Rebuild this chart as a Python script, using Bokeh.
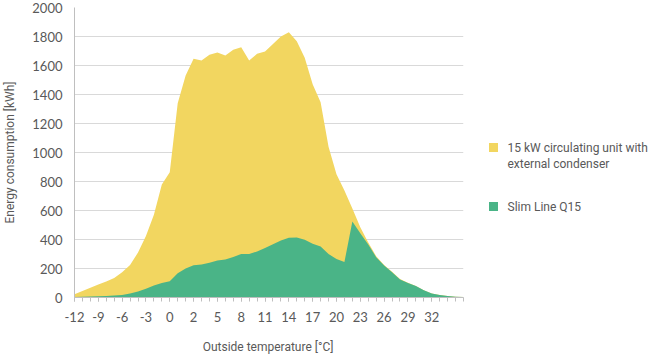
from bokeh.plotting import figure
from bokeh.layouts import row, column
from bokeh.models import Range1d, FixedTicker, ColumnDataSource, Div
from bokeh.embed import file_html
from bokeh.resources import INLINE

# Outside temperature categories (°C)
temps = [str(t) for t in range(-12, 0)] + ["0", "0"] + [str(t) for t in range(1, 37)]

# Energy consumption [kWh]
circulating_unit = [22, 45, 68, 90, 110, 135, 175, 225, 310, 425,
                    570, 780, 864, 1340, 1531, 1646, 1634, 1674, 1690, 1669,
                    1708, 1726, 1634, 1681, 1697, 1748, 1800, 1830, 1768, 1653,
                    1470, 1347, 1040, 850, 738, 614, 485, 380, 285, 225,
                    178, 127, 102, 80, 50, 28, 18, 10, 6, 4]
slim_line = [3, 5, 7, 9, 11, 14, 18, 28, 41, 60,
             82, 100, 112, 168, 200, 222, 228, 240, 255, 262,
             280, 300, 300, 318, 342, 368, 393, 412, 413, 398,
             370, 352, 300, 265, 244, 525, 443, 365, 278, 221,
             175, 125, 100, 80, 50, 28, 18, 10, 6, 4]

series_names = ["15 kW circulating unit with\nexternal condenser", "Slim Line Q15"]
x_title = "Outside temperature [°C]"
y_title = "Energy consumption [kWh]"

YELLOW = "#F2D660"
GREEN = "#4AB487"
TEXT = "#595959"
GRID = "#D9D9D9"
AXIS = "#BFBFBF"

MAIN_W = 470
H = 340          # chart height; the x-axis title sits in a 14px strip below
TITLE_H = 354 - H
TOP, BOTTOM = 7, 297

idx = list(range(len(temps)))
src = ColumnDataSource(dict(x=idx, a=circulating_unit, b=slim_line, zero=[0] * len(idx)))

p = figure(width=MAIN_W, height=H, output_backend="svg", toolbar_location=None,
           x_range=Range1d(0, len(temps) - 1), y_range=Range1d(0, 2000),
           min_border_left=73, min_border_right=MAIN_W - 463, min_border_top=TOP,
           min_border_bottom=H - BOTTOM)
p.outline_line_color = None

p.varea(x="x", y1="zero", y2="a", source=src, fill_color=YELLOW)
p.varea(x="x", y1="zero", y2="b", source=src, fill_color=GREEN)

# x axis
p.xaxis.ticker = FixedTicker(ticks=list(range(0, 46, 3)), minor_ticks=idx)
p.xaxis.major_label_overrides = {i: temps[i] for i in idx}
p.xaxis.major_tick_out = 4
p.xaxis.major_tick_in = 0
p.xaxis.minor_tick_out = 4
p.xaxis.minor_tick_in = 0
p.xaxis.axis_line_color = AXIS
p.xaxis.major_tick_line_color = AXIS
p.xaxis.minor_tick_line_color = AXIS
p.xaxis.major_label_standoff = 10
p.xgrid.visible = False

# y axis
p.yaxis.ticker = FixedTicker(ticks=list(range(0, 2001, 200)))
p.yaxis.major_tick_out = 0
p.yaxis.major_tick_in = 0
p.yaxis.minor_tick_line_color = None
p.yaxis.axis_line_color = AXIS
p.yaxis.axis_label = y_title
p.yaxis.major_label_standoff = 12
p.yaxis.axis_label_standoff = 12
p.ygrid.grid_line_color = GRID

for ax in (p.xaxis[0], p.yaxis[0]):
    ax.major_label_text_font = "Lato"
    ax.major_label_text_font_size = "13px"
    ax.major_label_text_color = TEXT
    ax.axis_label_text_font = "Roboto"
    ax.axis_label_text_font_size = "12px"
    ax.axis_label_text_font_style = "normal"
    ax.axis_label_text_color = TEXT

# legend panel (pixel-scaled figure; its frame is aligned with the main frame)
LW = 648 - MAIN_W
lg = figure(width=LW, height=H, output_backend="svg", toolbar_location=None,
            x_range=Range1d(0, LW), y_range=Range1d(354 - BOTTOM, 354 - TOP),
            min_border=0, x_axis_type=None, y_axis_type=None)
lg.outline_line_color = None
lg.grid.visible = False

leg_src = ColumnDataSource(dict(
    mx=[493 - MAIN_W, 493 - MAIN_W],
    my=[354 - 147, 354 - 206],
    tx=[507 - MAIN_W, 507 - MAIN_W],
    ty=[354 - 140, 354 - 199],
    label=series_names,
    color=[YELLOW, GREEN],
))
lg.scatter(x="mx", y="my", marker="square", size=9, fill_color="color", line_color=None, source=leg_src)
lg.text(x="tx", y="ty", text="label", source=leg_src, text_font={"value": "Roboto"},
        text_font_size="12px", text_color=TEXT, text_baseline="top", text_align="left",
        text_line_height=1.15)

title_div = Div(text=x_title, width=536, height=TITLE_H, margin=0,
                styles={"font-family": "Roboto", "font-size": "12px", "color": TEXT,
                        "text-align": "center", "line-height": "%dpx" % TITLE_H,
                        "white-space": "nowrap", "width": "536px"})

layout = column(row(p, lg), title_div, spacing=0)
open("out.html", "w").write(file_html(layout, INLINE))
